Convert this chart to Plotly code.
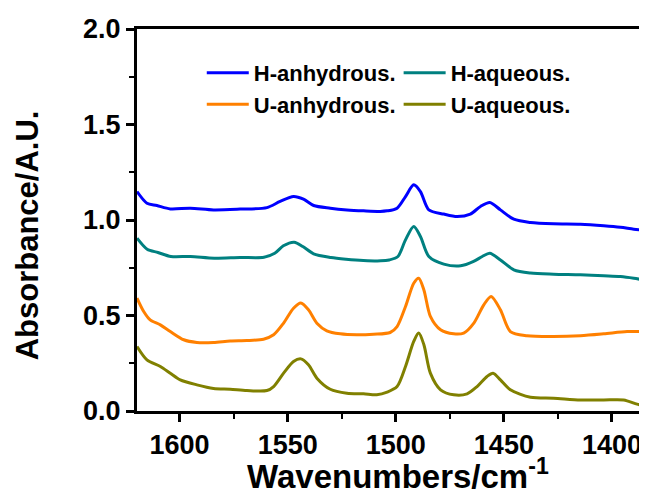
import plotly.graph_objects as go

# ---- data ----
w_h_anh = [1619.7, 1615.1, 1610.5, 1604.3, 1595.1, 1584.3, 1572.0, 1559.6, 1553.5, 1547.3, 1542.7, 1538.0,
           1530.3, 1522.6, 1514.9, 1507.2, 1504.0, 1499.4, 1495.5, 1491.7, 1488.6, 1484.7, 1477.8, 1471.6,
           1465.5, 1460.8, 1456.5, 1451.6, 1445.4, 1437.7, 1427.0, 1414.6, 1403.8, 1396.1, 1389.9, 1383.8]
a_h_anh = [1.149, 1.088, 1.076, 1.058, 1.062, 1.053, 1.057, 1.065, 1.097, 1.123, 1.109, 1.076,
           1.062, 1.053, 1.048, 1.045, 1.048, 1.062, 1.123, 1.184, 1.149, 1.053, 1.031, 1.018,
           1.031, 1.071, 1.092, 1.053, 1.004, 0.987, 0.980, 0.978, 0.970, 0.962, 0.952, 0.945]

w_h_aq = [1619.7, 1615.0, 1610.0, 1604.0, 1595.0, 1584.0, 1572.0, 1561.0, 1556.0, 1552.0, 1547.0, 1543.0,
          1538.0, 1530.0, 1523.0, 1515.0, 1507.0, 1503.0, 1499.0, 1495.5, 1491.7, 1488.6, 1484.7, 1477.8,
          1470.0, 1464.0, 1460.0, 1456.5, 1451.6, 1445.4, 1437.7, 1427.0, 1414.6, 1403.8, 1396.1, 1389.9, 1383.8]
a_h_aq = [0.905, 0.847, 0.830, 0.809, 0.809, 0.800, 0.804, 0.805, 0.826, 0.865, 0.884, 0.861,
          0.823, 0.804, 0.795, 0.788, 0.786, 0.791, 0.809, 0.896, 0.966, 0.914, 0.809, 0.769,
          0.760, 0.783, 0.809, 0.826, 0.791, 0.739, 0.722, 0.716, 0.713, 0.708, 0.704, 0.695, 0.683]

w_u_anh = [1619.7, 1616.6, 1613.6, 1608.9, 1604.3, 1598.1, 1592.0, 1584.3, 1576.6, 1568.9, 1561.2, 1556.5,
           1551.9, 1547.3, 1543.9, 1540.4, 1536.5, 1531.9, 1525.7, 1518.0, 1510.3, 1502.6, 1499.4, 1495.5,
           1491.7, 1489.4, 1487.0, 1484.0, 1479.3, 1473.2, 1468.6, 1463.9, 1459.3, 1455.9, 1451.6, 1447.0,
           1439.3, 1427.0, 1414.6, 1403.8, 1393.0, 1383.8]
a_u_anh = [0.591, 0.521, 0.477, 0.451, 0.416, 0.373, 0.359, 0.359, 0.367, 0.369, 0.376, 0.399,
           0.460, 0.538, 0.565, 0.530, 0.460, 0.420, 0.404, 0.399, 0.402, 0.411, 0.442, 0.547,
           0.669, 0.695, 0.634, 0.495, 0.425, 0.404, 0.408, 0.460, 0.556, 0.600, 0.530, 0.416,
           0.394, 0.390, 0.394, 0.404, 0.416, 0.416]

w_u_aq = [1619.7, 1615.1, 1608.9, 1604.3, 1599.7, 1592.0, 1584.3, 1576.6, 1568.9, 1559.6, 1556.5, 1551.9,
          1547.3, 1543.9, 1540.4, 1536.5, 1530.3, 1522.6, 1514.9, 1508.8, 1504.0, 1499.4, 1495.5, 1491.7,
          1489.4, 1487.0, 1484.0, 1479.3, 1473.2, 1467.0, 1462.4, 1457.8, 1455.0, 1451.6, 1447.0, 1437.7,
          1427.0, 1414.6, 1403.8, 1394.6, 1388.4, 1383.8]
a_u_aq = [0.338, 0.268, 0.233, 0.198, 0.163, 0.137, 0.118, 0.114, 0.107, 0.107, 0.128, 0.198,
          0.259, 0.273, 0.242, 0.172, 0.114, 0.093, 0.090, 0.085, 0.099, 0.128, 0.233, 0.364,
          0.408, 0.347, 0.198, 0.111, 0.085, 0.090, 0.128, 0.181, 0.198, 0.163, 0.111, 0.072,
          0.067, 0.058, 0.058, 0.058, 0.036, 0.024]

series_names = ["H-anhydrous.", "H-aqueous.", "U-anhydrous.", "U-aqueous."]
x_ticks = [1600, 1550, 1500, 1450, 1400]
y_ticks = [0.0, 0.5, 1.0, 1.5, 2.0]

FONT = "Liberation Sans, Arial, sans-serif"

fig = go.Figure()
specs = [
    (w_h_anh, a_h_anh, series_names[0], "#0000FF", "legend"),
    (w_h_aq, a_h_aq, series_names[1], "#008080", "legend2"),
    (w_u_anh, a_u_anh, series_names[2], "#FF8000", "legend"),
    (w_u_aq, a_u_aq, series_names[3], "#808000", "legend2"),
]
for xs, ys, name, color, leg in specs:
    fig.add_trace(go.Scatter(
        x=xs, y=ys, name=name, mode="lines",
        line=dict(color=color, width=3, shape="spline", smoothing=0.8),
        legend=leg,
    ))

legend_common = dict(
    font=dict(family=FONT, size=22, color="black", weight="bold"),
    bgcolor="rgba(0,0,0,0)", borderwidth=0,
    xanchor="left", yanchor="top", orientation="v",
    itemwidth=42, tracegroupgap=0,
)

# the page body has an 8px default margin, so the figure is made smaller
fig.update_layout(
    width=639, height=481,
    margin=dict(l=129, r=0, t=21, b=78, autoexpand=False),
    paper_bgcolor="white", plot_bgcolor="white",
    showlegend=True,
    legend=dict(x=0.127, y=0.94, **legend_common),
    legend2=dict(x=0.513, y=0.94, **legend_common),
    xaxis=dict(
        range=[1619.7, 1383.8], tickvals=x_ticks, ticktext=[str(v) for v in x_ticks],
        showgrid=False, zeroline=False, automargin=False,
        showline=True, linecolor="black", linewidth=3, mirror=True,
        ticks="outside", ticklen=8, tickwidth=2.5, tickcolor="black",
        tickfont=dict(family=FONT, size=27, color="black", weight="bold"),
        minor=dict(dtick=25, tick0=1400, ticks="outside", ticklen=5, tickwidth=2, tickcolor="black"),
    ),
    yaxis=dict(
        range=[0, 2.0], tickvals=y_ticks, ticktext=["%.1f" % v for v in y_ticks],
        showgrid=False, zeroline=False, automargin=False,
        showline=True, linecolor="black", linewidth=3, mirror=False,
        ticks="outside", ticklen=8, tickwidth=2.5, tickcolor="black",
        tickfont=dict(family=FONT, size=27, color="black", weight="bold"),
        minor=dict(dtick=0.25, tick0=0, ticks="outside", ticklen=5, tickwidth=2, tickcolor="black"),
    ),
    annotations=[
        dict(text="Wavenumbers/cm<sup>-1</sup>", xref="paper", yref="paper",
             x=0.512, y=-0.105, xanchor="center", yanchor="top", showarrow=False,
             font=dict(family=FONT, size=33, color="black", weight="bold")),
        dict(text="Absorbance/A.U.", xref="paper", yref="paper", textangle=-90,
             x=-0.2156, y=0.46, xanchor="center", yanchor="middle", showarrow=False,
             font=dict(family=FONT, size=31, color="black", weight="bold")),
    ],
)

fig.write_html("out.html")
